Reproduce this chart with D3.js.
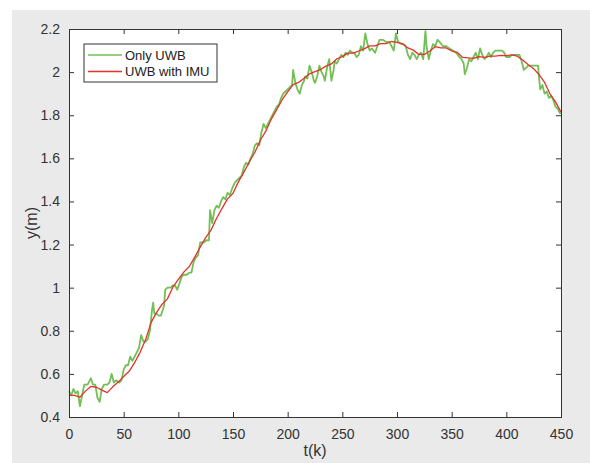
<!DOCTYPE html>
<html lang="en">
<head>
<meta charset="UTF-8">
<title>UWB vs UWB with IMU</title>
<script src="https://d3js.org/d3.v7.min.js"></script>
<style>
    body { margin: 0; background: #ffffff; font-family: "Liberation Sans", Arial, sans-serif; }
    svg { display: block; }
</style>
</head>
<body>
<div id="chart"></div>
<script>
// Only UWB (raw measurement)
const uwbT = [0,2,4,6,8,10,12,14,17,19,20,22,24,26,28,30,32,35,37,39,41,43,46,48,50,52,54,56,58,60,
  62,64,66,68,70,72,74,76,77,78,80,82,84,86,87,88,90,93,95,97,99,101,103,105,108,110,112,114,116,118,
  120,123,126,128,129,131,133,135,137,139,141,143,145,147,150,152,154,156,158,160,162,164,166,168,170,172,174,176,178,180,
  182,184,186,188,190,192,194,196,198,200,202,204,205,207,209,211,213,215,216,218,220,222,224,225,227,229,231,233,234,236,
  238,240,242,243,245,247,249,251,253,255,257,259,261,263,265,267,269,271,273,275,277,280,282,284,287,290,293,295,297,299,
  301,304,306,308,310,312,314,316,318,320,322,324,326,327,329,331,333,335,337,339,342,345,348,351,354,357,359,361,362,364,
  366,368,370,372,374,376,378,380,382,384,386,388,390,393,396,398,400,403,405,408,410,412,414,416,418,420,423,426,429,430,
  431,433,435,437,439,441,443,445,447,449,450];
const uwbY = [0.52,0.50,0.53,0.51,0.52,0.45,0.50,0.55,0.55,0.57,0.58,0.55,0.55,0.49,0.47,0.53,0.55,0.55,0.56,0.60,0.56,0.57,0.56,0.57,0.62,0.64,0.64,0.68,0.66,0.68,
  0.70,0.72,0.78,0.75,0.75,0.76,0.80,0.90,0.93,0.88,0.88,0.87,0.87,0.90,0.92,0.99,1.00,1.00,1.01,1.01,0.99,1.02,1.05,1.06,1.06,1.07,1.07,1.12,1.14,1.15,
  1.21,1.21,1.22,1.22,1.36,1.30,1.36,1.38,1.37,1.40,1.42,1.41,1.44,1.43,1.47,1.49,1.50,1.51,1.52,1.56,1.58,1.57,1.60,1.62,1.66,1.67,1.66,1.72,1.76,1.74,
  1.76,1.78,1.80,1.82,1.84,1.85,1.88,1.90,1.91,1.92,1.93,1.94,2.01,1.95,1.92,1.90,1.94,1.96,1.98,1.97,2.03,2.00,1.96,1.95,1.98,2.03,2.00,1.98,1.96,2.02,
  2.06,1.96,2.01,2.05,2.04,2.06,2.08,2.07,2.09,2.08,2.10,2.09,2.09,2.07,2.08,2.12,2.10,2.18,2.13,2.10,2.11,2.09,2.12,2.15,2.15,2.14,2.14,2.12,2.10,2.18,
  2.14,2.13,2.13,2.12,2.08,2.06,2.09,2.08,2.06,2.08,2.09,2.06,2.19,2.12,2.06,2.10,2.13,2.12,2.15,2.14,2.12,2.12,2.11,2.10,2.09,2.07,2.06,2.04,1.99,2.02,
  2.06,2.05,2.07,2.09,2.06,2.11,2.08,2.06,2.07,2.09,2.07,2.09,2.10,2.10,2.10,2.09,2.07,2.07,2.08,2.08,2.08,2.08,2.05,2.01,2.02,2.03,2.03,2.03,2.03,1.97,
  1.92,1.94,1.90,1.91,1.88,1.89,1.87,1.84,1.83,1.81,1.81];

// UWB fused with IMU (filtered)
const imuT = [0,5,10,15,20,25,30,35,40,45,50,55,60,65,70,75,80,85,90,95,100,105,110,115,120,125,130,135,140,145,
  150,155,160,165,170,175,180,185,190,195,200,205,210,215,220,225,230,235,240,245,250,255,260,265,270,275,280,285,290,295,
  300,305,310,315,320,325,330,335,340,345,350,355,360,365,370,375,380,385,390,395,400,405,410,415,420,425,430,435,440,445,450];
const imuY = [0.50,0.50,0.492,0.52,0.542,0.538,0.525,0.513,0.54,0.562,0.588,0.612,0.652,0.70,0.758,0.838,0.884,0.922,0.948,1.002,
  1.038,1.072,1.098,1.142,1.188,1.232,1.268,1.322,1.368,1.412,1.438,1.492,1.536,1.584,1.628,1.684,1.726,1.782,1.826,1.872,
  1.908,1.942,1.952,1.972,1.992,2.002,2.012,2.028,2.038,2.062,2.072,2.088,2.088,2.098,2.108,2.122,2.122,2.132,2.132,2.142,
  2.138,2.132,2.112,2.102,2.082,2.082,2.098,2.118,2.112,2.112,2.098,2.092,2.068,2.066,2.064,2.072,2.068,2.074,2.074,2.078,
  2.076,2.08,2.074,2.056,2.034,2.016,1.988,1.952,1.898,1.862,1.815];

const xTicks = [0,50,100,150,200,250,300,350,400,450];
const yTicks = [0.4,0.6,0.8,1,1.2,1.4,1.6,1.8,2,2.2];
const seriesNames = ["Only UWB", "UWB with IMU"];
const seriesColors = ["#72bf55", "#e3322a"];

const W = 590, H = 463;
const margin = { left: 69, top: 29, right: 29, bottom: 46 };
const iw = W - margin.left - margin.right;
const ih = H - margin.top - margin.bottom;

const svg = d3.select("#chart").append("svg")
    .attr("width", W).attr("height", H);

// figure background
svg.append("rect").attr("x", 12).attr("y", 10)
    .attr("width", W - 12).attr("height", H - 10).attr("fill", "#eaeaea");

const g = svg.append("g").attr("transform", `translate(${margin.left},${margin.top})`);
g.append("rect").attr("width", iw).attr("height", ih).attr("fill", "#ffffff");

const x = d3.scaleLinear().domain([0, 450]).range([0, iw]);
const y = d3.scaleLinear().domain([0.4, 2.2]).range([ih, 0]);

// lines
const uwb = uwbT.map((t, i) => [t, uwbY[i]]);
const imu = imuT.map((t, i) => [t, imuY[i]]);
const line = d3.line().x(d => x(d[0])).y(d => y(d[1]));

g.append("path").datum(uwb).attr("d", line)
    .attr("fill", "none").attr("stroke", seriesColors[0])
    .attr("stroke-width", 1.8).attr("stroke-linejoin", "round");
g.append("path").datum(imu).attr("d", line)
    .attr("fill", "none").attr("stroke", seriesColors[1])
    .attr("stroke-width", 1.3).attr("stroke-linejoin", "round");

// axes (box with inward ticks, MATLAB style)
const axisColor = "#333333";
const fmt = d => String(+d.toFixed(1));

const xb = g.append("g").attr("transform", `translate(0,${ih})`)
    .call(d3.axisBottom(x).tickValues(xTicks).tickSize(-5).tickPadding(12).tickFormat(fmt));
const xt = g.append("g")
    .call(d3.axisTop(x).tickValues(xTicks).tickSize(-5).tickFormat(""));
const yl = g.append("g")
    .call(d3.axisLeft(y).tickValues(yTicks).tickSize(-5).tickPadding(9).tickFormat(fmt));
const yr = g.append("g").attr("transform", `translate(${iw},0)`)
    .call(d3.axisRight(y).tickValues(yTicks).tickSize(-5).tickFormat(""));

[xb, xt, yl, yr].forEach(a => {
    a.select(".domain").attr("stroke", axisColor).attr("stroke-width", 1);
    a.selectAll(".tick line").attr("stroke", axisColor);
    a.selectAll("text").attr("fill", "#333333")
        .style("font-family", "'Liberation Sans', Arial, sans-serif")
        .style("font-size", "14px");
});

// axis labels
svg.append("text")
    .attr("x", margin.left + iw / 2).attr("y", 456)
    .attr("text-anchor", "middle")
    .style("font-size", "16px").attr("fill", "#333333")
    .text("t(k)");
svg.append("text")
    .attr("transform", `translate(37,${margin.top + ih / 2}) rotate(-90)`)
    .attr("text-anchor", "middle")
    .style("font-size", "16px").attr("fill", "#333333")
    .text("y(m)");

// legend
const lg = svg.append("g").attr("transform", "translate(84,44)");
lg.append("rect").attr("width", 133).attr("height", 38)
    .attr("fill", "#ffffff").attr("stroke", "#333333").attr("stroke-width", 1);
seriesNames.forEach((name, i) => {
    const yy = 11 + i * 16.5;
    lg.append("line").attr("x1", 4).attr("x2", 38).attr("y1", yy).attr("y2", yy)
        .attr("stroke", seriesColors[i]).attr("stroke-width", 1.3);
    lg.append("text").attr("x", 41).attr("y", yy).attr("dy", "0.35em")
        .style("font-size", "13px").attr("fill", "#222222")
        .text(name);
});
</script>
</body>
</html>
